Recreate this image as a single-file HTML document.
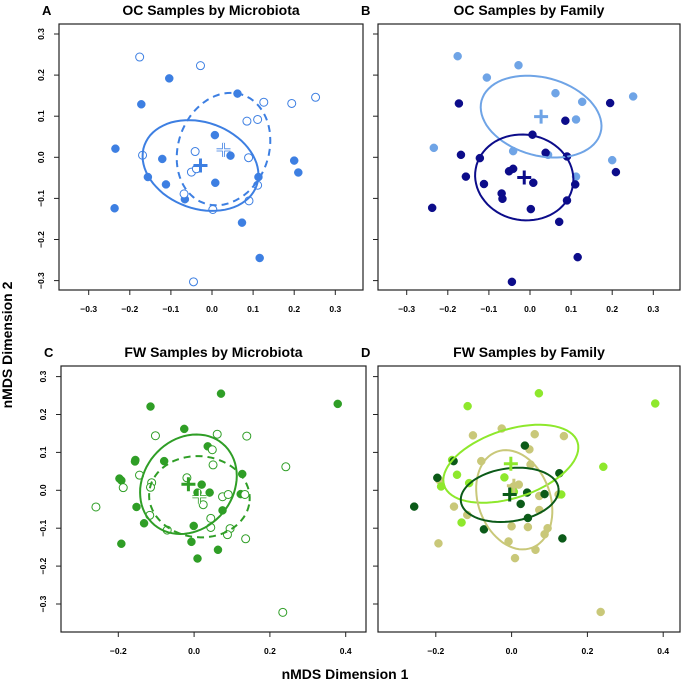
<!DOCTYPE html>
<html><head><meta charset="utf-8"><style>
body{margin:0;background:#fff}
svg{display:block;font-family:"Liberation Sans",Arial,sans-serif}
</style></head><body>
<svg id="fig" width="683" height="692" viewBox="0 0 683 692">
<text x="12" y="345" transform="rotate(-90 12 345)" text-anchor="middle" font-size="14" font-weight="bold">nMDS Dimension 2</text>
<text x="345" y="679" text-anchor="middle" font-size="14" font-weight="bold">nMDS Dimension 1</text>
</svg>
<script>
// Panel A data (OC by microbiota)
const aFilledX=[-0.104,-0.172,-0.235,-0.121,-0.156,-0.112,-0.237,-0.066,0.007,0.045,0.008,0.062,0.113,0.073,0.116,0.2,0.21];
const aFilledY=[0.192,0.129,0.021,-0.004,-0.048,-0.066,-0.124,-0.102,0.054,0.004,-0.062,0.155,-0.048,-0.159,-0.245,-0.008,-0.037];
const aOpenX=[-0.176,-0.028,0.126,0.194,0.252,0.085,0.111,-0.041,0.089,-0.169,-0.05,-0.038,-0.068,0.111,0.09,0.002,-0.045];
const aOpenY=[0.244,0.223,0.134,0.131,0.146,0.088,0.092,0.014,-0.001,0.005,-0.036,-0.028,-0.089,-0.068,-0.106,-0.127,-0.303];
// Panel B data (OC by family)
const bLightX=[-0.176,-0.028,-0.105,0.062,0.127,0.251,0.112,-0.234,-0.041,0.044,0.2,0.112];
const bLightY=[0.246,0.224,0.194,0.156,0.135,0.148,0.092,0.023,0.015,0.006,-0.007,-0.047];
const bDarkX=[-0.173,-0.168,-0.156,-0.122,-0.112,-0.069,-0.067,-0.238,-0.051,-0.041,0.006,0.038,0.008,0.002,0.09,0.086,0.195,0.209,0.11,0.09,0.071,0.116,-0.044];
const bDarkY=[0.131,0.006,-0.047,-0.002,-0.065,-0.088,-0.101,-0.123,-0.034,-0.028,0.055,0.011,-0.062,-0.126,0.002,0.089,0.132,-0.036,-0.066,-0.105,-0.157,-0.243,-0.303];
// Panel C data (FW by microbiota)
const cFilledX=[0.071,-0.115,-0.026,0.036,-0.155,-0.156,-0.079,-0.197,-0.192,0.02,0.009,0.041,0.127,0.123,-0.152,0.075,-0.132,-0.001,-0.192,-0.007,0.063,0.009,0.379];
const cFilledY=[0.255,0.221,0.162,0.116,0.08,0.076,0.077,0.031,0.026,0.015,-0.006,-0.006,0.043,-0.01,-0.044,-0.053,-0.087,-0.094,-0.141,-0.136,-0.157,-0.18,0.228];
const cOpenX=[-0.102,0.061,0.139,0.048,0.05,-0.144,-0.019,-0.112,-0.115,-0.187,-0.259,0.075,0.09,0.134,0.024,-0.117,0.044,-0.071,0.044,0.095,0.088,0.136,0.242,0.234];
const cOpenY=[0.144,0.148,0.143,0.107,0.067,0.04,0.033,0.02,0.008,0.007,-0.044,-0.017,-0.011,-0.011,-0.038,-0.066,-0.074,-0.105,-0.098,-0.101,-0.117,-0.128,0.062,-0.322];
// Panel D data (FW by family)
const dLimeX=[0.072,-0.116,0.379,0.242,-0.157,-0.144,-0.186,-0.112,-0.019,0.006,0.131,-0.132];
const dLimeY=[0.256,0.222,0.229,0.062,0.08,0.041,0.01,0.019,0.034,-0.004,-0.011,-0.085];
const dKhakiX=[-0.026,-0.102,0.061,0.138,0.047,-0.08,0.05,-0.191,0.019,0.005,0.073,0.124,-0.152,-0.117,0.073,0,0.043,0.095,0.087,-0.008,0.063,0.009,-0.193,0.235];
const dKhakiY=[0.163,0.145,0.148,0.143,0.108,0.077,0.068,0.027,0.015,0.01,-0.015,-0.011,-0.043,-0.065,-0.052,-0.095,-0.097,-0.1,-0.116,-0.135,-0.157,-0.179,-0.14,-0.321];
const dDarkX=[0.035,-0.153,-0.196,0.126,0.041,0.087,0.024,0.043,-0.073,0.134,-0.257];
const dDarkY=[0.118,0.077,0.033,0.045,-0.006,-0.01,-0.036,-0.073,-0.103,-0.127,-0.043];
// Ellipses: [cx, cy, a, b, angleDeg]
const ellA=[[-0.028,-0.02,0.145,0.105,-20],[0.028,0.02,0.14,0.11,70]];
const ellB=[[0.027,0.099,0.15,0.095,-15],[-0.014,-0.049,0.12,0.104,-10]];
const ellC=[[-0.015,0.016,0.14,0.118,50],[0.014,-0.017,0.133,0.107,-5]];
const ellD=[[-0.002,0.07,0.185,0.09,18],[0.007,-0.025,0.135,0.095,110],[-0.005,-0.012,0.13,0.07,8]];
// Centroids
const centA=[[-0.028,-0.02],[0.028,0.018]];
const centB=[[0.027,0.099],[-0.014,-0.049]];
const centC=[[-0.015,0.016],[0.014,-0.017]];
const centD=[[-0.002,0.07],[0.006,0.012],[-0.005,-0.011]];
const ticksOC=[-0.3,-0.2,-0.1,0,0.1,0.2,0.3];
const ticksFWx=[-0.2,0,0.2,0.4];
const ticksFWy=[-0.3,-0.2,-0.1,0,0.1,0.2,0.3];

const NS="http://www.w3.org/2000/svg";
const svg=document.getElementById('fig');
function mk(tag,attrs,parent){const e=document.createElementNS(NS,tag);for(const k in attrs)e.setAttribute(k,attrs[k]);(parent||svg).appendChild(e);return e;}
function fmt(v){return v===0?'0.0':(v<0?'\u2212':'')+Math.abs(v).toFixed(1);}

function panel(p){
  const g=mk('g',{});
  
  
  const sx=v=>p.x0+v*p.k, sy=v=>p.y0-v*p.k;
  const box=mk('rect',{x:p.bx0,y:p.by0,width:p.bx1-p.bx0,height:p.by1-p.by0,fill:'none',stroke:'#222','stroke-width':1.2},g);
  
  
  const t=mk('text',{x:(p.bx0+p.bx1)/2,y:p.by0-9,'text-anchor':'middle','font-size':14,'font-weight':'bold'},g);
  t.textContent=p.title;
  
  
  const L=mk('text',{x:p.bx0-17,y:p.by0-9,'font-size':13,'font-weight':'bold'},g);
  L.textContent=p.letter;
  
  
  p.xt.forEach(v=>{
    const x=sx(v);
    mk('line',{x1:x,x2:x,y1:p.by1,y2:p.by1+5,stroke:'#222'},g);
    const tx=mk('text',{x:x,y:p.by1+22,'text-anchor':'middle','font-size':8.5,'font-weight':'bold'},g);
    tx.textContent=fmt(v);
    
    
  });
  p.yt.forEach(v=>{
    const y=sy(v);
    mk('line',{x1:p.bx0-5,x2:p.bx0,y1:y,y2:y,stroke:'#222'},g);
    if(p.ylab){
      const xx=p.bx0-15;
      const ty=mk('text',{x:xx,y:y,'text-anchor':'middle','font-size':8.5,'font-weight':'bold',transform:`rotate(-90 ${xx} ${y})`},g);
      ty.textContent=fmt(v);
      
      
    }
  });
  p.series.forEach(s=>{
    s.xs.forEach((xv,i)=>{
      const c=mk('circle',{cx:sx(xv),cy:sy(s.ys[i]),r:4,fill:s.open?'#fff':s.color,stroke:s.color,'stroke-width':s.open?1:0.5},g);
      
      
    });
  });
  p.ells.forEach((e,j)=>{
    const [cx,cy,a,b,ang]=e;const r=ang*Math.PI/180;let d='';
    for(let i=0;i<=72;i++){const t=i/72*2*Math.PI;const ux=a*Math.cos(t),uy=b*Math.sin(t);
      const X=cx+ux*Math.cos(r)-uy*Math.sin(r),Y=cy+ux*Math.sin(r)+uy*Math.cos(r);
      d+=(i?'L':'M')+sx(X).toFixed(1)+','+sy(Y).toFixed(1);}
    const el=mk('path',{d:d,fill:'none',stroke:p.ellColors[j],'stroke-width':2,'stroke-dasharray':p.ellDash[j]||'none'},g);
    
    
  });
  p.cents.forEach((c,j)=>{
    const x=sx(c[0]),y=sy(c[1]),col=p.ellColors[j];
    const d=`M${x-7},${y}H${x+7}M${x},${y-7}V${y+7}`;
    const pl=mk('path',{d:d,stroke:col,'stroke-width':3,fill:'none'},g);
    
    
    if(p.openCent&&p.openCent[j]) mk('path',{d:d,stroke:'#fff','stroke-width':1.4,fill:'none'},g);
  });
}
const blue='#3d7fe2';
panel({name:'panel-a',letter:'A',title:'OC Samples by Microbiota',bx0:59,bx1:363,by0:24,by1:290,x0:212,y0:157.3,k:411,xt:ticksOC,yt:ticksOC,ylab:true,
 series:[{xs:aFilledX,ys:aFilledY,color:blue},{xs:aOpenX,ys:aOpenY,color:blue,open:true}],
 ells:ellA,ellColors:[blue,blue],ellDash:[null,'7,5'],cents:centA,openCent:[false,true]});
panel({name:'panel-b',letter:'B',title:'OC Samples by Family',bx0:378,bx1:680,by0:24,by1:290,x0:530,y0:157.3,k:411,xt:ticksOC,yt:ticksOC,ylab:false,
 series:[{xs:bLightX,ys:bLightY,color:'#6fa4e6'},{xs:bDarkX,ys:bDarkY,color:'#0c0c8a'}],
 ells:ellB,ellColors:['#6fa4e6','#0c0c8a'],ellDash:[],cents:centB});
const green='#2f9e26';
panel({name:'panel-c',letter:'C',title:'FW Samples by Microbiota',bx0:61,bx1:366,by0:366,by1:632,x0:194.1,y0:490.3,k:379,xt:ticksFWx,yt:ticksFWy,ylab:true,
 series:[{xs:cFilledX,ys:cFilledY,color:green},{xs:cOpenX,ys:cOpenY,color:green,open:true}],
 ells:ellC,ellColors:[green,green],ellDash:[null,'7,5'],cents:centC,openCent:[false,true]});
panel({name:'panel-d',letter:'D',title:'FW Samples by Family',bx0:378,bx1:680,by0:366,by1:632,x0:511.6,y0:490.3,k:379,xt:ticksFWx,yt:ticksFWy,ylab:false,
 series:[{xs:dKhakiX,ys:dKhakiY,color:'#c9c879'},{xs:dLimeX,ys:dLimeY,color:'#8ee82c'},{xs:dDarkX,ys:dDarkY,color:'#0b5a18'}],
 ells:ellD,ellColors:['#8ee82c','#c9c879','#0b5a18'],ellDash:[],cents:centD});
</script>
</body></html>
